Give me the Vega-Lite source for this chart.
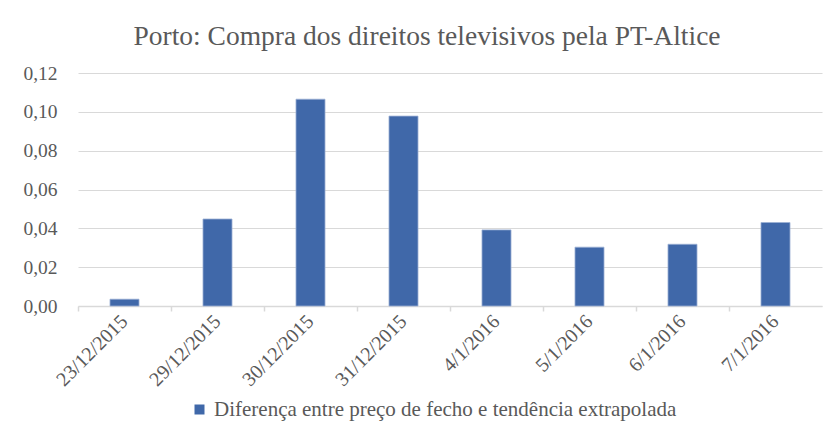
{
  "$schema": "https://vega.github.io/schema/vega-lite/v6.json",
  "width": 744,
  "height": 233,
  "autosize": {"type": "none"},
  "padding": {"left": 78, "top": 73, "right": 18, "bottom": 126},
  "background": "white",
  "title": {
    "text": "Porto: Compra dos direitos televisivos  pela PT-Altice",
    "font": "Liberation Serif",
    "fontSize": 27.5,
    "fontWeight": "normal",
    "color": "#595959",
    "anchor": "middle",
    "dx": -23,
    "offset": 13
  },
  "data": {
    "values": [
      {"data": "23/12/2015", "valor": 0.0035, "serie": "Diferença entre preço de fecho e tendência extrapolada"},
      {"data": "29/12/2015", "valor": 0.0448, "serie": "Diferença entre preço de fecho e tendência extrapolada"},
      {"data": "30/12/2015", "valor": 0.1065, "serie": "Diferença entre preço de fecho e tendência extrapolada"},
      {"data": "31/12/2015", "valor": 0.0978, "serie": "Diferença entre preço de fecho e tendência extrapolada"},
      {"data": "4/1/2016", "valor": 0.0392, "serie": "Diferença entre preço de fecho e tendência extrapolada"},
      {"data": "5/1/2016", "valor": 0.0303, "serie": "Diferença entre preço de fecho e tendência extrapolada"},
      {"data": "6/1/2016", "valor": 0.0318, "serie": "Diferença entre preço de fecho e tendência extrapolada"},
      {"data": "7/1/2016", "valor": 0.0430, "serie": "Diferença entre preço de fecho e tendência extrapolada"}
    ]
  },
  "mark": {"type": "bar", "width": {"band": 0.312}, "stroke": "#9cb0d4", "strokeWidth": 0.8},
  "encoding": {
    "x": {
      "field": "data",
      "type": "nominal",
      "sort": null,
      "scale": {"paddingInner": 0, "paddingOuter": 0},
      "axis": {
        "title": null,
        "labelAngle": -45,
        "labelAlign": "right",
        "labelBaseline": "middle",
        "labelFont": "Liberation Serif",
        "labelFontSize": 20,
        "labelColor": "#595959",
        "labelPadding": 7,
        "bandPosition": 0,
        "domainColor": "#d9d9d9",
        "domainWidth": 1.5,
        "tickColor": "#d9d9d9",
        "tickWidth": 1.5,
        "tickSize": 5,
        "grid": false
      }
    },
    "y": {
      "field": "valor",
      "type": "quantitative",
      "scale": {"domain": [0, 0.12], "nice": false},
      "axis": {
        "title": null,
        "values": [0, 0.02, 0.04, 0.06, 0.08, 0.1, 0.12],
        "format": ".2f",
        "labelFont": "Liberation Serif",
        "labelFontSize": 19.5,
        "labelColor": "#595959",
        "labelPadding": 21,
        "domain": false,
        "ticks": false,
        "gridColor": "#d9d9d9",
        "gridWidth": 1.2
      }
    },
    "color": {
      "field": "serie",
      "type": "nominal",
      "scale": {"range": ["#4068a9"]},
      "legend": {
        "title": null,
        "orient": "none",
        "legendX": 111,
        "legendY": 326,
        "direction": "horizontal",
        "symbolType": "square",
        "symbolSize": 100,
        "symbolStrokeWidth": 0,
        "labelFont": "Liberation Serif",
        "labelFontSize": 21,
        "labelColor": "#595959",
        "labelLimit": 700
      }
    }
  },
  "config": {
    "locale": {
      "number": {"decimal": ",", "thousands": ".", "grouping": [3], "currency": ["", " €"]}
    },
    "view": {"stroke": null}
  }
}
